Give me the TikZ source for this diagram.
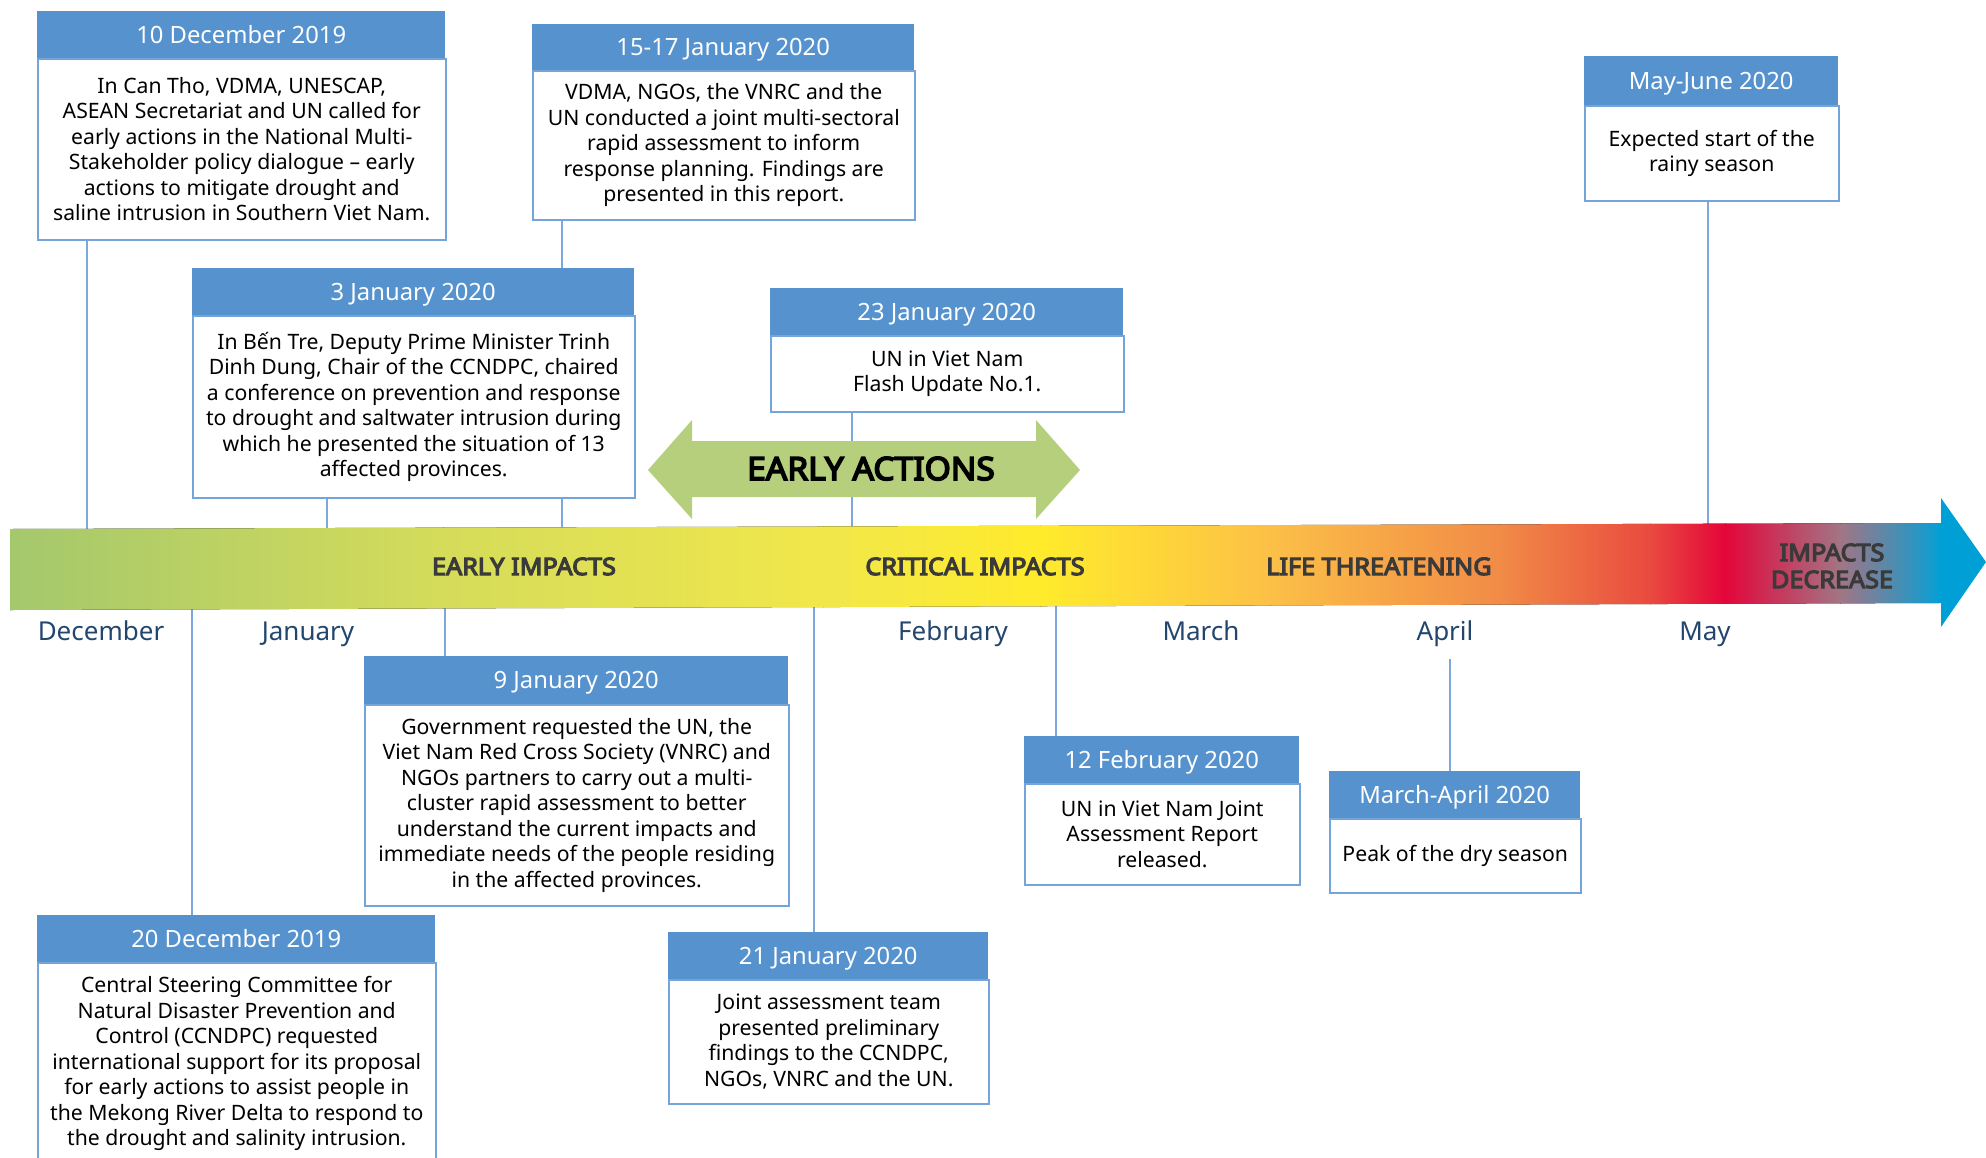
\documentclass[tikz,border=0pt]{standalone}
\usepackage{fontspec}
\setmainfont{Noto Sans}
\newfontfamily\myboldfont{Noto Sans}[FakeBold=5, FakeStretch=1.05]
\definecolor{hdrblue}{HTML}{5592CE}
\definecolor{bordblue}{HTML}{74A4DA}
\definecolor{connblue}{HTML}{7EA8DA}
\definecolor{monthblue}{HTML}{23466F}
\definecolor{phasegrey}{HTML}{3A3A3A}
\definecolor{eagreen}{HTML}{B5CF7D}
\definecolor{g0}{HTML}{A4C86C}
\definecolor{g1}{HTML}{D5DC5A}
\definecolor{g2}{HTML}{F1E74B}
\definecolor{g3}{HTML}{FFEB2B}
\definecolor{g4}{HTML}{FCC047}
\definecolor{g5}{HTML}{F18B47}
\definecolor{g6}{HTML}{E94A3F}
\definecolor{g7}{HTML}{E4053A}
\definecolor{g8}{HTML}{A27585}
\definecolor{g9}{HTML}{099FD3}
\definecolor{g10}{HTML}{009FD6}
\pgfdeclarelayer{bg}
\pgfsetlayers{bg,main}
\newcommand\evbox[8]{%
  \node[bod, minimum width={#4-#2}, minimum height={#6-#5}, anchor=north west] (#1) at (#2,#5) {#8};
  \node[hdr, minimum width={#4-#2}, minimum height={#5-#3}, anchor=north west] (#1-h) at (#2,#3) {#7};
}
\begin{document}
\begin{tikzpicture}[x=1pt,y=-1pt,
  hdr/.style={fill=hdrblue, text=white, inner sep=0pt, text height=17pt, text depth=0pt, font=\fontsize{23.8}{28}\selectfont},
  bod/.style={draw=bordblue, line width=1.5pt, fill=white, inner sep=0pt, align=center, font=\fontsize{21.2}{25.5}\selectfont},
  conn/.style={draw=connblue, line width=1.4pt},
  month/.style={text=monthblue, font=\fontsize{26}{30}\selectfont, anchor=base, inner sep=0pt},
  phase/.style={text=phasegrey, font=\myboldfont\fontsize{24}{27}\selectfont, inner sep=0pt}]
\useasboundingbox (0,0) rectangle (1986,1157);
\clip (0,0) rectangle (1986,1157);

% main timeline band
\begin{scope}
  \clip (10,529) -- (1941,523) -- (1941,498) -- (1986,562) -- (1941,627) -- (1941,603) -- (10,610) -- cycle;
  \fill[left color=g0, right color=g1] (9,490) rectangle (443.5,640);
  \fill[left color=g1, right color=g2] (443,490) rectangle (823.5,640);
  \fill[left color=g2, right color=g3] (823,490) rectangle (1040.5,640);
  \fill[left color=g3, right color=g4] (1040,490) rectangle (1270.5,640);
  \fill[left color=g4, right color=g5] (1270,490) rectangle (1500.5,640);
  \fill[left color=g5, right color=g6] (1500,490) rectangle (1650.5,640);
  \fill[left color=g6, right color=g7] (1650,490) rectangle (1725.5,640);
  \fill[left color=g7, right color=g8] (1725,490) rectangle (1840.5,640);
  \fill[left color=g8, right color=g9] (1840,490) rectangle (1938.5,640);
  \fill[g10] (1938,490) rectangle (1990,640);
\end{scope}

\node[phase, anchor=base] (p1) at (524,575) {EARLY IMPACTS};
\node[phase, anchor=base] (p2) at (975,575) {CRITICAL IMPACTS};
\node[phase, anchor=base] (p3) at (1379,575) {LIFE THREATENING};
\node[phase, align=center] (p4) at (1832,566) {IMPACTS\\DECREASE};

% months
\node[month] (mdec) at (101,640) {December};
\node[month] (mjan) at (308,640) {January};
\node[month] (mfeb) at (953,640) {February};
\node[month] (mmar) at (1201,640) {March};
\node[month] (mapr) at (1445,640) {April};
\node[month] (mmay) at (1705,640) {May};

% early actions arrow
\fill[eagreen] (648,470) -- (692,420) -- (692,441) -- (1036,441) -- (1036,420) -- (1080,470)
  -- (1036,519) -- (1036,497) -- (692,497) -- (692,519) -- cycle;
\node[inner sep=0pt, anchor=base, font=\myboldfont\fontsize{32}{36}\selectfont] (ea) at (871,480) {EARLY ACTIONS};

% boxes
\evbox{b10dec}{37}{11}{445}{58}{239}{10 December 2019}{In Can Tho, VDMA, UNESCAP,\\ASEAN Secretariat and UN called for\\early actions in the National Multi-\\Stakeholder policy dialogue – early\\actions to mitigate drought and\\saline intrusion in Southern Viet Nam.}
\evbox{b1517}{532}{24}{914}{70}{219}{15-17 January 2020}{VDMA, NGOs, the VNRC and the\\UN conducted a joint multi-sectoral\\rapid assessment to inform\\response planning. Findings are\\presented in this report.}
\evbox{b3jan}{192}{268}{634}{315}{497}{3 January 2020}{In Bến Tre, Deputy Prime Minister Trinh\\Dinh Dung, Chair of the CCNDPC, chaired\\a conference on prevention and response\\to drought and saltwater intrusion during\\which he presented the situation of 13\\affected provinces.}
\evbox{b23jan}{770}{288}{1123}{335}{411}{23 January 2020}{UN in Viet Nam\\Flash Update No.1.}
\evbox{bmay}{1584}{56}{1838}{105}{200}{May-June 2020}{Expected start of the\\rainy season}
\evbox{b9jan}{364}{656}{788}{704}{905}{9 January 2020}{Government requested the UN, the\\Viet Nam Red Cross Society (VNRC) and\\NGOs partners to carry out a multi-\\cluster rapid assessment to better\\understand the current impacts and\\immediate needs of the people residing\\in the affected provinces.}
\evbox{b20dec}{37}{915}{435}{962}{1164}{20 December 2019}{Central Steering Committee for\\Natural Disaster Prevention and\\Control (CCNDPC) requested\\international support for its proposal\\for early actions to assist people in\\the Mekong River Delta to respond to\\the drought and salinity intrusion.}
\evbox{b21jan}{668}{932}{988}{979}{1103}{21 January 2020}{Joint assessment team\\presented preliminary\\findings to the CCNDPC,\\NGOs, VNRC and the UN.}
\evbox{b12feb}{1024}{736}{1299}{783}{884}{12 February 2020}{UN in Viet Nam Joint\\Assessment Report\\released.}
\evbox{bmarapr}{1329}{771}{1580}{818}{892}{March-April 2020}{Peak of the dry season}

% connector anchor points
\coordinate (t10dec) at (87,570);
\coordinate (t3jan) at (327,570);
\coordinate (t1517) at (562,570);
\coordinate (t23jan) at (852,570);
\coordinate (tmay) at (1708,570);
\coordinate (t20dec) at (192,570);
\coordinate (t9jan) at (445,570);
\coordinate (t21jan) at (814,570);
\coordinate (t12feb) at (1056,570);
\coordinate (tmarapr) at (1450,659);

\begin{pgfonlayer}{bg}
  \draw[conn] (t10dec |- b10dec.south) -- (t10dec);
  \draw[conn] (t3jan |- b3jan.south) -- (t3jan);
  \draw[conn] (t1517 |- b1517.south) -- (t1517);
  \draw[conn] (t23jan |- b23jan.south) -- (t23jan);
  \draw[conn] (tmay |- bmay.south) -- (tmay);
  \draw[conn] (t20dec) -- (t20dec |- b20dec-h.north);
  \draw[conn] (t9jan) -- (t9jan |- b9jan-h.north);
  \draw[conn] (t21jan) -- (t21jan |- b21jan-h.north);
  \draw[conn] (t12feb) -- (t12feb |- b12feb-h.north);
  \draw[conn] (tmarapr) -- (tmarapr |- bmarapr-h.north);
\end{pgfonlayer}
\end{tikzpicture}
\end{document}
